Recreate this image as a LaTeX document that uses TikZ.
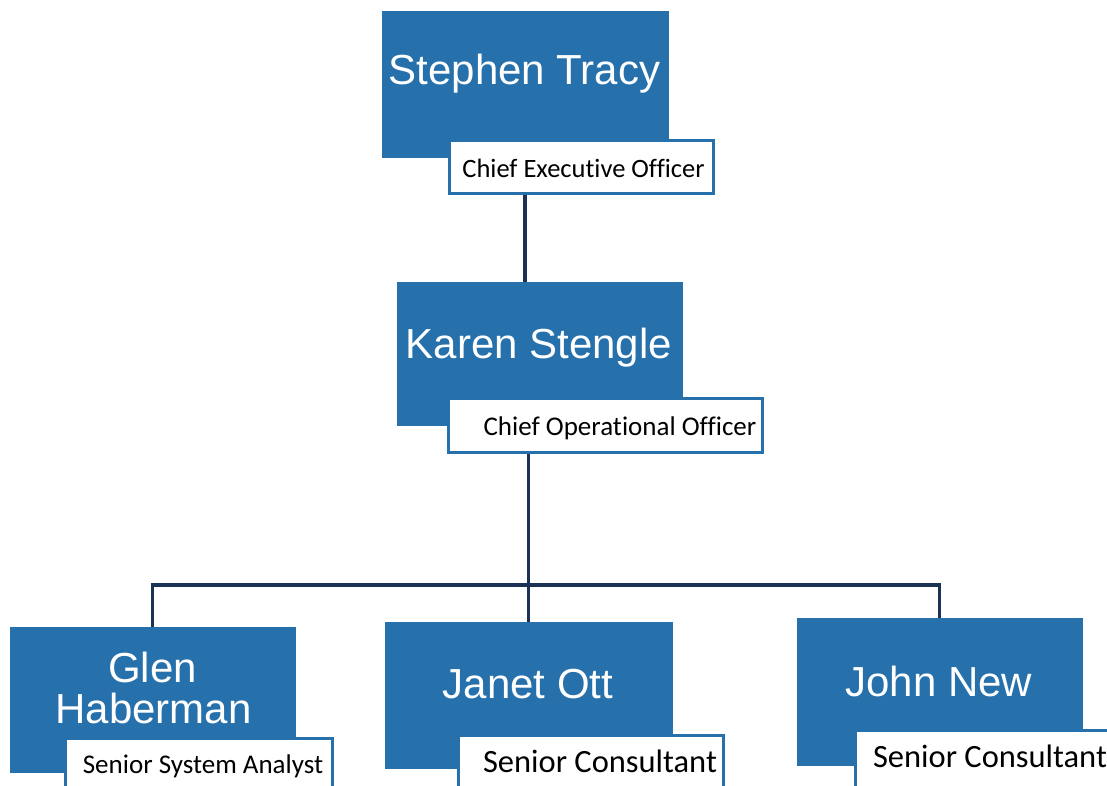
\documentclass[tikz,border=0pt]{standalone}
\usepackage{fontspec}
\setmainfont{Liberation Sans}
\newfontfamily\calibrifont[Ligatures=NoCommon]{Carlito}
\definecolor{boxblue}{RGB}{38,112,172}
\definecolor{linenavy}{RGB}{28,50,85}
\begin{document}
\begin{tikzpicture}[x=1pt,y=-1pt,
  namebox/.style={rectangle, fill=boxblue, draw=boxblue, line width=1pt, inner sep=0pt},
  titlebox/.style={rectangle, fill=white, draw=boxblue, line width=3pt, inner sep=0pt},
  nametext/.style={anchor=base, text=white, inner sep=0pt, font=\fontsize{42}{48}\selectfont},
  titletext/.style={anchor=base, text=black, inner sep=0pt, font=\calibrifont\fontsize{#1}{#1}\selectfont},
  link/.style={draw=linenavy, line width=3.5pt}]
\useasboundingbox (0,0) rectangle (1107,785);
\clip (0,0) rectangle (1107,785);
\fill[white] (0,0) rectangle (1107,785);

% main boxes
\node[namebox, minimum width=286pt, minimum height=146pt] (st) at (525,84) {};
\node[namebox, minimum width=285pt, minimum height=143pt] (ks) at (539.5,353.5) {};
\node[namebox, minimum width=285pt, minimum height=145pt] (gh) at (152.5,699.5) {};
\node[namebox, minimum width=287pt, minimum height=146pt] (jo) at (528.5,695) {};
\node[namebox, minimum width=285pt, minimum height=147pt] (jn) at (939.5,691.5) {};

% names
\node[nametext] (stt) at (524.5,84) {Stephen Tracy};
\node[nametext] (kst) at (539,358) {Karen Stengle};
\node[nametext] (ght1) at (152.5,682) {Glen};
\node[nametext] (ght2) at (153.5,723) {Haberman};
\node[nametext] (jot) at (528,698) {Janet Ott};
\node[nametext] (jnt) at (939,696) {John New};

% title boxes
\node[titlebox, minimum width=264pt, minimum height=53pt] (stl) at (581,166.5) {};
\node[titlebox, minimum width=314pt, minimum height=54pt] (ksl) at (605,425) {};
\node[titlebox, minimum width=267pt, minimum height=56pt] (ghl) at (198.5,766) {};
\node[titlebox, minimum width=265pt, minimum height=56pt] (jol) at (590.5,763) {};
\node[titlebox, minimum width=265pt, minimum height=60pt] (jnl) at (987.5,760) {};

\node[titletext=26.5] (stlt) at (583.5,177) {Chief Executive Officer};
\node[titletext=27] (kslt) at (620,435) {Chief Operational Officer};
\node[titletext=27] (ghlt) at (203,773) {Senior System Analyst};
\node[titletext=32.5] (jolt) at (600,772) {Senior Consultant};
\node[titletext=32.5] (jnlt) at (990,767) {Senior Consultant};

% connectors
\coordinate (bar) at (528,585);
\draw[link] (st.south |- stl.south) -- (st.south |- ks.north);
\draw[link] (ksl.south -| jo.north) -- (jo.north);
\draw[link] (gh.north) |- (bar) -| (jn.north);
\end{tikzpicture}
\end{document}
